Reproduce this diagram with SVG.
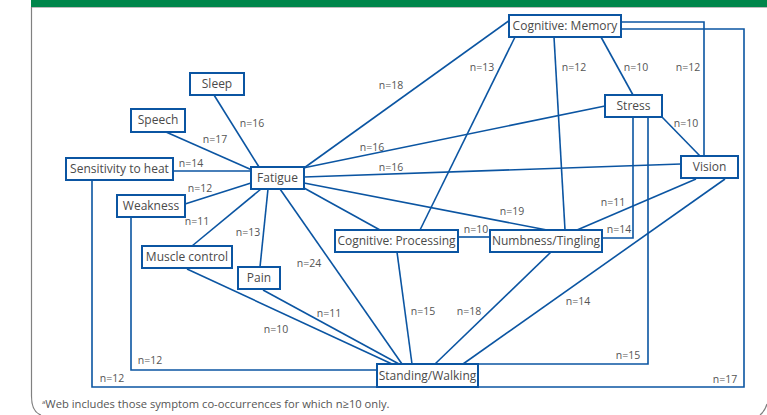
<svg xmlns="http://www.w3.org/2000/svg" width="767" height="415" viewBox="0 0 767 415">
<style>
.box{fill:#fff;stroke:#0b55a2;stroke-width:2}
.nt{font-family:"Open Sans","Noto Sans",sans-serif;font-size:12px;fill:#4a4a4a;text-anchor:middle}
.ln{fill:none;stroke:#0b55a2;stroke-width:1.6}
.lb{font-family:"Open Sans","Noto Sans",sans-serif;font-size:10.5px;fill:#555;text-anchor:middle}
.fn{font-family:"Open Sans","Noto Sans",sans-serif;font-size:11.2px;fill:#555}
</style>
<rect x="0" y="0" width="767" height="415" fill="#fff"/>
<rect x="31" y="0" width="736" height="7" fill="#00864b"/>
<line x1="31" y1="7.5" x2="767" y2="7.5" stroke="#bdbdbd" stroke-width="1"/>
<path d="M31.5,7 V396 Q31.5,412 41,415" fill="none" stroke="#808080" stroke-width="1.2"/>
<path d="M767,404 Q765,411 760,415" fill="none" stroke="#808080" stroke-width="1.2"/>

<g id="connectors">
<line class="ln" x1="214" y1="95" x2="259" y2="167"/>
<line class="ln" x1="166" y1="132" x2="252" y2="170"/>
<line class="ln" x1="173" y1="171" x2="251" y2="171"/>
<line class="ln" x1="185" y1="204" x2="251" y2="183"/>
<line class="ln" x1="192" y1="246" x2="261" y2="189"/>
<line class="ln" x1="260" y1="267" x2="268" y2="189"/>
<line class="ln" x1="280" y1="189" x2="402" y2="364"/>
<line class="ln" x1="304" y1="188" x2="380" y2="230"/>
<line class="ln" x1="304" y1="183" x2="547" y2="230"/>
<line class="ln" x1="304" y1="177" x2="681" y2="164"/>
<line class="ln" x1="303" y1="168" x2="605" y2="106"/>
<line class="ln" x1="304" y1="168" x2="510" y2="20"/>
<line class="ln" x1="515" y1="37" x2="420" y2="230"/>
<line class="ln" x1="554" y1="37" x2="565" y2="230"/>
<line class="ln" x1="601" y1="37" x2="633" y2="95"/>
<polyline class="ln" points="621,22 704,22 704,156"/>
<polyline class="ln" points="621,29 744,29 744,387 478,387"/>
<line class="ln" x1="662" y1="117" x2="700" y2="156"/>
<polyline class="ln" points="633,117 633,238 602,238"/>
<polyline class="ln" points="648,117 648,364 478,364"/>
<line class="ln" x1="696" y1="179" x2="577" y2="230"/>
<line class="ln" x1="725" y1="179" x2="463" y2="364"/>
<line class="ln" x1="458" y1="237" x2="490" y2="237"/>
<line class="ln" x1="397" y1="252" x2="412" y2="364"/>
<line class="ln" x1="551" y1="252" x2="435" y2="364"/>
<line class="ln" x1="187" y1="269" x2="392" y2="364"/>
<line class="ln" x1="263" y1="290" x2="399" y2="364"/>
<polyline class="ln" points="131,217 131,370 377,370"/>
<polyline class="ln" points="92,180 92,387 377,387"/>
</g>

<g id="edge-labels">
<text class="lb" x="252" y="127">n=16</text>
<text class="lb" x="215" y="143">n=17</text>
<text class="lb" x="191" y="167">n=14</text>
<text class="lb" x="200" y="192">n=12</text>
<text class="lb" x="197" y="225">n=11</text>
<text class="lb" x="248" y="236">n=13</text>
<text class="lb" x="309" y="267">n=24</text>
<text class="lb" x="372" y="151">n=16</text>
<text class="lb" x="391" y="171">n=16</text>
<text class="lb" x="391" y="89">n=18</text>
<text class="lb" x="482" y="71">n=13</text>
<text class="lb" x="574" y="71">n=12</text>
<text class="lb" x="636" y="71">n=10</text>
<text class="lb" x="688" y="71">n=12</text>
<text class="lb" x="686" y="127">n=10</text>
<text class="lb" x="613" y="206">n=11</text>
<text class="lb" x="619" y="233">n=14</text>
<text class="lb" x="512" y="215">n=19</text>
<text class="lb" x="476" y="233">n=10</text>
<text class="lb" x="423" y="315">n=15</text>
<text class="lb" x="469" y="315">n=18</text>
<text class="lb" x="578" y="305">n=14</text>
<text class="lb" x="628" y="359">n=15</text>
<text class="lb" x="725" y="383">n=17</text>
<text class="lb" x="329" y="317">n=11</text>
<text class="lb" x="276" y="333">n=10</text>
<text class="lb" x="150" y="364">n=12</text>
<text class="lb" x="112" y="382">n=12</text>
</g>

<g id="node-memory"><rect class="box" x="509" y="15" width="112" height="22"/><text class="nt" x="565" y="30">Cognitive: Memory</text></g>
<g id="node-stress"><rect class="box" x="605" y="95" width="57" height="22"/><text class="nt" x="633.5" y="110">Stress</text></g>
<g id="node-vision"><rect class="box" x="681" y="156" width="57" height="22"/><text class="nt" x="709.5" y="171">Vision</text></g>
<g id="node-sleep"><rect class="box" x="190" y="73" width="54" height="22"/><text class="nt" x="217" y="88">Sleep</text></g>
<g id="node-speech"><rect class="box" x="131" y="109" width="54" height="23"/><text class="nt" x="158" y="124">Speech</text></g>
<g id="node-heat"><rect class="box" x="66" y="158" width="107" height="22"/><text class="nt" x="119.5" y="173">Sensitivity to heat</text></g>
<g id="node-fatigue"><rect class="box" x="251" y="167" width="53" height="22"/><text class="nt" x="277.5" y="182">Fatigue</text></g>
<g id="node-weakness"><rect class="box" x="117" y="195" width="68" height="22"/><text class="nt" x="151" y="210">Weakness</text></g>
<g id="node-muscle"><rect class="box" x="142" y="246" width="90" height="22"/><text class="nt" x="187" y="261">Muscle control</text></g>
<g id="node-pain"><rect class="box" x="238" y="267" width="42" height="22"/><text class="nt" x="259" y="282">Pain</text></g>
<g id="node-processing"><rect class="box" x="335" y="230" width="123" height="22"/><text class="nt" x="396.5" y="245">Cognitive: Processing</text></g>
<g id="node-numbness"><rect class="box" x="490" y="230" width="112" height="22"/><text class="nt" x="546" y="245">Numbness/Tingling</text></g>
<g id="node-standing"><rect class="box" x="377" y="364" width="101" height="23"/><text class="nt" x="427.5" y="380">Standing/Walking</text></g>

<text class="fn" x="42" y="408"><tspan font-size="6" dy="-4">a</tspan><tspan dy="4">Web includes those symptom co-occurrences for which n≥10 only.</tspan></text>
</svg>
